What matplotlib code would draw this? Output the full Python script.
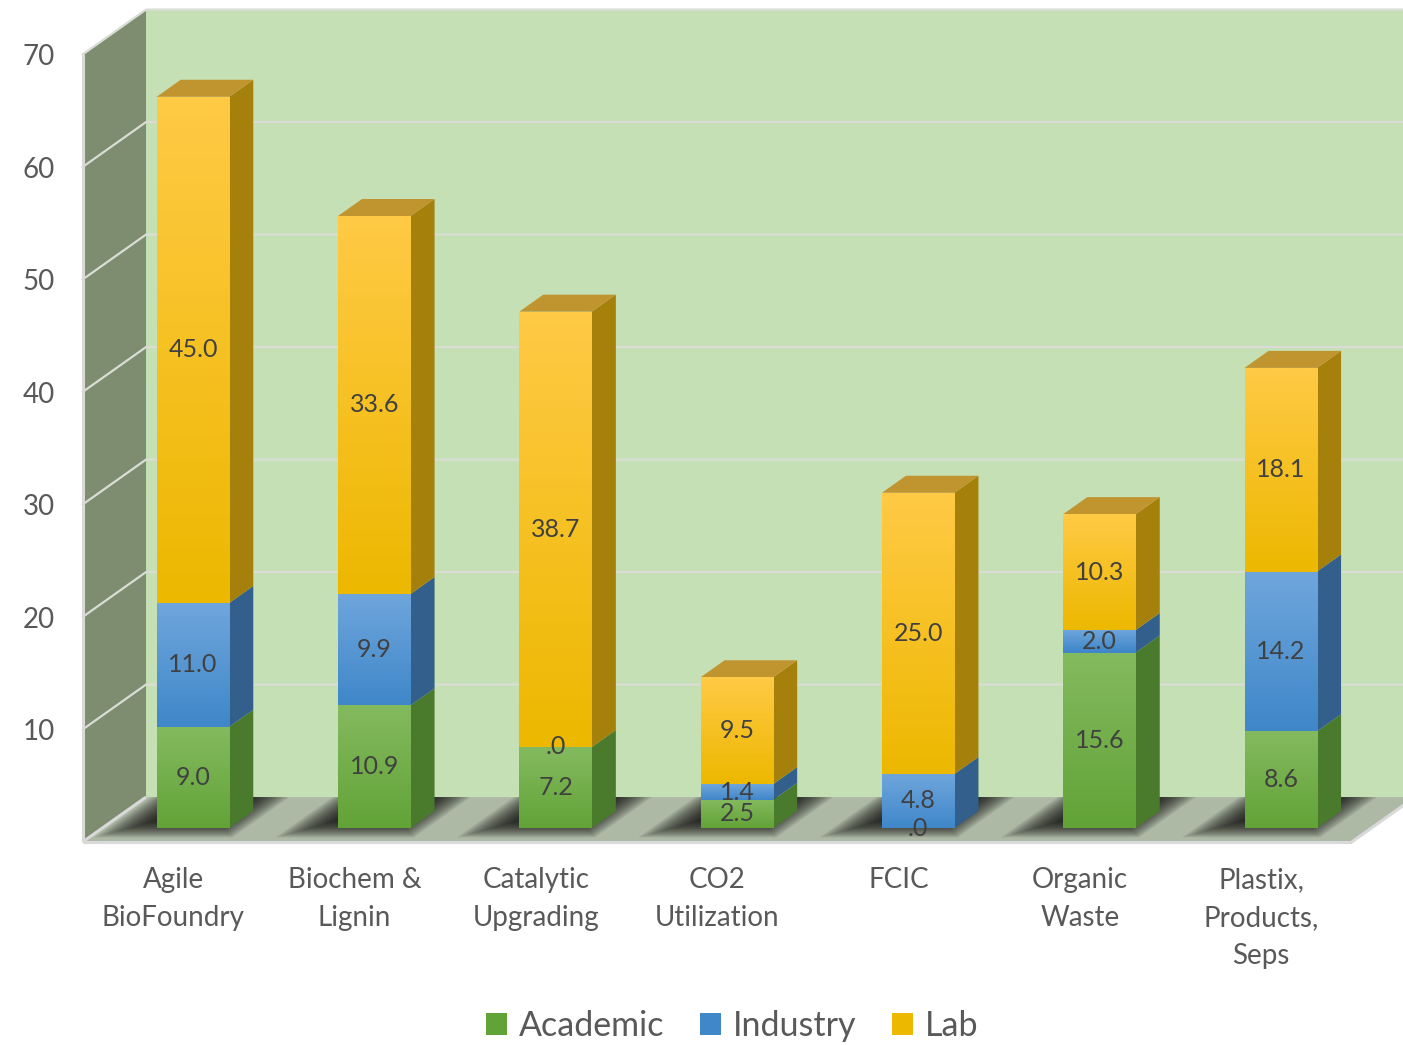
import numpy as np
import matplotlib.pyplot as plt
from matplotlib.patches import Polygon, Patch
from matplotlib.colors import LinearSegmentedColormap

plt.rcParams['font.family'] = ['Lato', 'DejaVu Sans']

# data
categories = ["Agile\nBioFoundry", "Biochem &\nLignin", "Catalytic\nUpgrading",
              "CO2\nUtilization", "FCIC", "Organic\nWaste", "Plastix,\nProducts,\nSeps"]
academic = [9.0, 10.9, 7.2, 2.5, 0.0, 15.6, 8.6]
industry = [11.0, 9.9, 0.0, 1.4, 4.8, 2.0, 14.2]
lab = [45.0, 33.6, 38.7, 9.5, 25.0, 10.3, 18.1]
series_names = ["Academic", "Industry", "Lab"]
yticks = [10, 20, 30, 40, 50, 60, 70]
ymax = 70

# colours: (front top, front bottom, side, top face)
styles = [
    ("#84BA5F", "#62A337", "#4A7A2C", "#5E8F3C"),
    ("#6FA6DC", "#3F87C9", "#325F8C", "#3C6FA0"),
    ("#FFCA45", "#EDB800", "#A5800A", "#C0952F"),
]

# layout (pixel geometry of the figure)
W, H = 1403, 1045
X0, SX = 193, 181.3      # pixel x of first category, px per category
Y0, SY = 828, 11.25      # pixel y of value 0 on bar front plane, px per unit
DX, DY = 24 / SX, 17 / SY  # one bar depth in data units
bw = 0.4
dF, dB = -0.82, 1.82


def P(x, y, d):
    return (x + d * DX, y + d * DY)


def gradient_fill(ax, patch, x0, x1, y0, y1, c_top, c_bot, z):
    cmap = LinearSegmentedColormap.from_list("g", [c_bot, c_top])
    grad = np.linspace(0, 1, 128).reshape(-1, 1)
    im = ax.imshow(grad, extent=[x0, x1, y0, y1], origin="lower", cmap=cmap,
                   aspect="auto", zorder=z, interpolation="bilinear")
    im.set_clip_path(patch)


fig = plt.figure(figsize=(W / 100, H / 100), dpi=100)
ax = fig.add_axes([0, 0, 1, 1])
xlim = (-X0 / SX, (W - X0) / SX)
ylim = (-(H - Y0) / SY, Y0 / SY)

n = len(categories)
x = np.arange(n)
xl, xr = -0.5, n - 0.5

# walls and floor
back = Polygon([P(xl, 0, dB), P(xr, 0, dB), P(xr, ymax, dB), P(xl, ymax, dB)],
               facecolor="#C5E0B4", edgecolor="none", zorder=0)
side = Polygon([P(xl, 0, dF), P(xl, 0, dB), P(xl, ymax, dB), P(xl, ymax, dF)],
               facecolor="#7E8C70", edgecolor="none", zorder=0)
floor = Polygon([P(xl, 0, dF), P(xr, 0, dF), P(xr, 0, dB), P(xl, 0, dB)],
                facecolor="#ADB8A5", edgecolor="none", zorder=0)
for p in (back, side, floor):
    ax.add_patch(p)

# gridlines
gc = "#D9DDD5"
for v in yticks:
    a, b, c = P(xl, v, dF), P(xl, v, dB), P(xr, v, dB)
    ax.plot([a[0], b[0], c[0]], [a[1], b[1], c[1]], color=gc, lw=1.6, zorder=1)
    ax.annotate(str(v), xy=a, xytext=(-28, -3), textcoords="offset pixels",
                ha="right", va="center", fontsize=20, color="#595959")
# box edges
for seg in [(P(xl, 0, dF), P(xr, 0, dF)), (P(xl, 0, dF), P(xl, ymax, dF)),
            (P(xl, 0, dF), P(xl, 0, dB)), (P(xr, 0, dF), P(xr, 0, dB))]:
    ax.plot([seg[0][0], seg[1][0]], [seg[0][1], seg[1][1]], color="#D9D9D9",
            lw=2.2, zorder=1, solid_capstyle="butt")

# floor shadows (soft, layered)
for xi in x:
    for k in range(14):
        ex = 0.015 * k
        ed = 0.07 * k
        poly = Polygon([P(xi - bw / 2 - 0.27 + ex, 0, -0.55 + ed),
                        P(xi + bw / 2 + 0.09 - ex, 0, -0.55 + ed),
                        P(xi + bw / 2 + 0.09 - ex, 0, dB + 0.6),
                        P(xi - bw / 2 - 0.27 + ex, 0, dB + 0.6)],
                       facecolor="black", edgecolor="none", alpha=0.09, zorder=2)
        ax.add_patch(poly)
        poly.set_clip_path(floor)

# stacked bars
bottom = np.zeros(n)
series = [academic, industry, lab]
for s, vals in enumerate(series):
    vals = np.array(vals)
    ctop, cbot, cside, ctopface = styles[s]
    rects = ax.bar(x, vals, width=bw, bottom=bottom, color=cbot,
                   edgecolor="none", linewidth=0, zorder=3)
    for i, r in enumerate(rects):
        v = vals[i]
        b0 = bottom[i]
        b1 = b0 + v
        if v > 0:
            gradient_fill(ax, r, x[i] - bw / 2, x[i] + bw / 2, b0, b1, ctop, cbot, 3.1)
            ax.add_patch(Polygon([P(x[i] + bw / 2, b0, 0), P(x[i] + bw / 2, b0, 1),
                                  P(x[i] + bw / 2, b1, 1), P(x[i] + bw / 2, b1, 0)],
                                 facecolor=cside, edgecolor="none", zorder=3))
            if s == len(series) - 1:
                ax.add_patch(Polygon([P(x[i] - bw / 2, b1, 0), P(x[i] + bw / 2, b1, 0),
                                      P(x[i] + bw / 2, b1, 1), P(x[i] - bw / 2, b1, 1)],
                                     facecolor=ctopface, edgecolor="none", zorder=3))
        lbl = f"{v:.1f}"
        if lbl.startswith("0"):
            lbl = lbl[1:]
        ax.text(x[i], b0 + v / 2, lbl, ha="center", va="center", fontsize=18,
                color="#404040", zorder=5)
    bottom = bottom + vals

# category labels
for xi, cat in zip(x, categories):
    ax.annotate(cat, xy=P(xi, 0, dF), xytext=(0, -25), textcoords="offset pixels",
                ha="center", va="top", fontsize=20, color="#595959",
                linespacing=1.58)

handles = [Patch(facecolor=st[1], edgecolor="none") for st in styles]
fig.legend(handles, series_names, loc="lower center", bbox_to_anchor=(0.522, -0.026),
           ncol=3, frameon=False, fontsize=24.5, handlelength=0.62, handleheight=0.62,
           handletextpad=0.35, columnspacing=1.05, labelcolor="#595959")

ax.set_xlim(*xlim)
ax.set_ylim(*ylim)
ax.axis("off")
fig.savefig("out.png", dpi=100)
